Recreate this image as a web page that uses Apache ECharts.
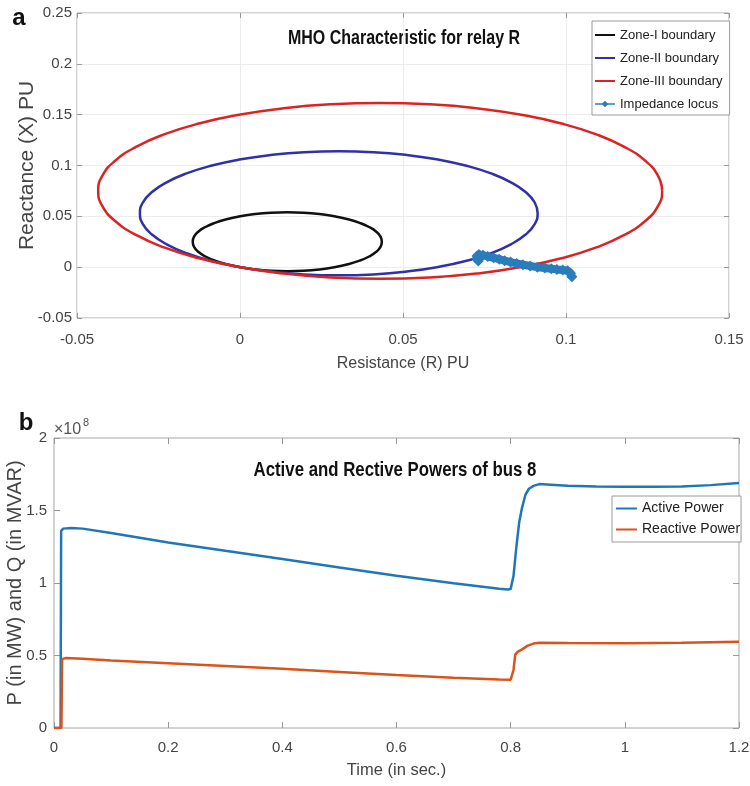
<!DOCTYPE html>
<html>
<head>
<meta charset="utf-8">
<title>MHO characteristic and bus 8 powers</title>
<script src="https://cdn.jsdelivr.net/npm/echarts@6/dist/echarts.min.js"></script>
<style>
html,body{margin:0;padding:0;background:#fff;}
#container{width:750px;height:786px;}
</style>
</head>
<body>
<div id="container"></div>
<script>
var FONT = "'Liberation Sans',Arial,sans-serif";

// (a) MHO zone boundaries, [R, X] in pu (read every 10 degrees round each circle)
var zone1 = [[0.0435,0.025],[0.0431,0.03],[0.0418,0.0349],[0.0396,0.0395],[0.0367,0.0436],[0.0331,0.0472],[0.029,0.0501],[0.0244,0.0523],[0.0195,0.0536],[0.0145,0.054],[0.0095,0.0536],[0.0046,0.0523],[0.0,0.0501],[-0.0041,0.0472],[-0.0077,0.0436],[-0.0106,0.0395],[-0.0128,0.0349],[-0.0141,0.03],[-0.0145,0.025],[-0.0141,0.02],[-0.0128,0.0151],[-0.0106,0.0105],[-0.0077,0.0064],[-0.0041,0.0028],[0.0,-0.0001],[0.0046,-0.0023],[0.0095,-0.0036],[0.0145,-0.004],[0.0195,-0.0036],[0.0244,-0.0023],[0.029,-0.0001],[0.0331,0.0028],[0.0367,0.0064],[0.0396,0.0105],[0.0418,0.0151],[0.0431,0.02],[0.0435,0.025],[0.0431,0.03]];
var zone2 = [[0.0913,0.053],[0.0904,0.0636],[0.0876,0.0739],[0.0831,0.0835],[0.077,0.0922],[0.0695,0.0997],[0.0608,0.1058],[0.0512,0.1103],[0.0409,0.1131],[0.0303,0.114],[0.0197,0.1131],[0.0094,0.1103],[-0.0002,0.1058],[-0.0089,0.0997],[-0.0164,0.0922],[-0.0225,0.0835],[-0.027,0.0739],[-0.0298,0.0636],[-0.0307,0.053],[-0.0298,0.0424],[-0.027,0.0321],[-0.0225,0.0225],[-0.0164,0.0138],[-0.0089,0.0063],[-0.0002,0.0002],[0.0094,-0.0043],[0.0197,-0.0071],[0.0303,-0.008],[0.0409,-0.0071],[0.0512,-0.0043],[0.0608,0.0002],[0.0695,0.0063],[0.077,0.0138],[0.0831,0.0225],[0.0876,0.0321],[0.0904,0.0424],[0.0913,0.053],[0.0904,0.0636]];
var zone3 = [[0.1295,0.075],[0.1282,0.09],[0.1243,0.1046],[0.1179,0.1183],[0.1093,0.1306],[0.0986,0.1413],[0.0863,0.1499],[0.0726,0.1563],[0.058,0.1602],[0.043,0.1615],[0.028,0.1602],[0.0134,0.1563],[-0.0003,0.1499],[-0.0126,0.1413],[-0.0233,0.1306],[-0.0319,0.1183],[-0.0383,0.1046],[-0.0422,0.09],[-0.0435,0.075],[-0.0422,0.06],[-0.0383,0.0454],[-0.0319,0.0317],[-0.0233,0.0194],[-0.0126,0.0087],[-0.0003,0.0001],[0.0134,-0.0063],[0.028,-0.0102],[0.043,-0.0115],[0.058,-0.0102],[0.0726,-0.0063],[0.0863,0.0001],[0.0986,0.0087],[0.1093,0.0194],[0.1179,0.0317],[0.1243,0.0454],[0.1282,0.06],[0.1295,0.075],[0.1282,0.09]];
var locus = [[0.1018,-0.0095],[0.1014,-0.006],[0.1005,-0.0035],[0.099,-0.0028],[0.0972,-0.0022],[0.0955,-0.0015],[0.0935,-0.0008],[0.0912,0.0],[0.089,0.0012],[0.0868,0.0025],[0.0849,0.0037],[0.083,0.005],[0.0812,0.0064],[0.0795,0.0078],[0.0778,0.0092],[0.076,0.0105],[0.0745,0.0118],[0.0733,0.0125],[0.0727,0.011],[0.0727,0.0085],[0.0731,0.006]];

// (b) powers of bus 8, values in units of 1e8
var timeP = [0,0.0115,0.0125,0.016,0.03,0.05,0.1,0.2,0.3,0.4,0.5,0.6,0.7,0.78,0.795,0.8,0.805,0.81,0.815,0.82,0.826,0.832,0.84,0.85,0.87,0.9,0.95,1.0,1.05,1.1,1.15,1.2];
var activeP = [0,0,1.36,1.375,1.38,1.375,1.345,1.28,1.222,1.165,1.107,1.05,0.998,0.96,0.955,0.958,1.05,1.25,1.42,1.52,1.61,1.65,1.67,1.682,1.678,1.67,1.665,1.663,1.663,1.665,1.675,1.69];
var timeQ = [0,0.013,0.0142,0.02,0.05,0.1,0.2,0.3,0.4,0.5,0.6,0.7,0.78,0.8,0.805,0.808,0.812,0.82,0.83,0.84,0.85,0.9,1.0,1.1,1.2];
var reactiveQ = [0,0,0.475,0.482,0.477,0.465,0.447,0.428,0.408,0.387,0.365,0.347,0.335,0.333,0.40,0.505,0.525,0.542,0.568,0.582,0.588,0.586,0.585,0.588,0.594];

function toPairs(xs, ys){
    var out = [];
    for (var i = 0; i < xs.length; i++) {
        out.push([xs[i], ys[i]]);
    }
    return out;
}

var boxColor = '#a6a6a6';
var labelColor = '#444';

function mainAxis(grid, pos, min, max, step, extra){
    var a = {
        type: 'value', gridIndex: grid, position: pos,
        min: min, max: max, interval: step,
        nameMoveOverlap: false,
        axisLine: {show: false, onZero: false},
        axisTick: {show: true, inside: true, length: 5, lineStyle: {color: '#999'}},
        axisLabel: {color: labelColor, fontFamily: FONT, fontSize: 15},
        splitLine: {show: false}
    };
    for (var k in extra) { a[k] = extra[k]; }
    return a;
}
// box sides (top / right) only carry inward ticks
function tickAxis(grid, pos, min, max, step, len){
    return {
        type: 'value', gridIndex: grid, position: pos,
        min: min, max: max, interval: step,
        axisLine: {show: false, onZero: false},
        axisTick: {show: true, inside: true, length: len, lineStyle: {color: '#999'}},
        axisLabel: {show: false},
        splitLine: {show: false}
    };
}
function label(text, x, y, font, fill, align, sx){
    return {type: 'text', x: x, y: y, scaleX: sx || 1,
        style: {text: text, font: font, fill: fill, align: align, verticalAlign: 'middle', textAlign: align, textVerticalAlign: 'middle'}};
}

var myChart = echarts.init(document.getElementById('container'), null, {renderer: 'canvas'});
var option = {
    animation: false,
    backgroundColor: '#fff',
    grid: [
        {left: 77, top: 13, width: 652, height: 305, show: true, borderColor: boxColor, borderWidth: 1, containLabel: false, outerBoundsMode: 'none'},
        {left: 54, top: 438, width: 685, height: 290, show: true, borderColor: boxColor, borderWidth: 1, containLabel: false, outerBoundsMode: 'none'}
    ],
    xAxis: [
        mainAxis(0, 'bottom', -0.05, 0.15, 0.05, {
            name: 'Resistance (R) PU', nameLocation: 'middle', nameGap: 38,
            nameTextStyle: {color: labelColor, fontFamily: FONT, fontSize: 16},
            axisLabel: {color: labelColor, fontFamily: FONT, fontSize: 15, margin: 14},
            splitLine: {show: true, lineStyle: {color: '#ececec', width: 1}}
        }),
        tickAxis(0, 'top', -0.05, 0.15, 0.05, 5),
        mainAxis(1, 'bottom', 0, 1.2, 0.2, {
            name: 'Time (in sec.)', nameLocation: 'middle', nameGap: 34,
            nameTextStyle: {color: labelColor, fontFamily: FONT, fontSize: 16.5},
            axisTick: {show: true, inside: true, length: 6, lineStyle: {color: '#999'}},
            axisLabel: {color: labelColor, fontFamily: FONT, fontSize: 15, margin: 12}
        }),
        tickAxis(1, 'top', 0, 1.2, 0.2, 6)
    ],
    yAxis: [
        mainAxis(0, 'left', -0.05, 0.25, 0.05, {
            name: 'Reactance (X) PU', nameLocation: 'middle', nameGap: 39,
            nameTextStyle: {color: labelColor, fontFamily: FONT, fontSize: 21},
            axisLabel: {color: labelColor, fontFamily: FONT, fontSize: 15, margin: 5},
            splitLine: {show: true, lineStyle: {color: '#ececec', width: 1}}
        }),
        tickAxis(0, 'right', -0.05, 0.25, 0.05, 5),
        mainAxis(1, 'left', 0, 2, 0.5, {
            name: 'P (in MW) and Q (in MVAR)', nameLocation: 'middle', nameGap: 29,
            nameTextStyle: {color: labelColor, fontFamily: FONT, fontSize: 20},
            axisTick: {show: true, inside: true, length: 6, lineStyle: {color: '#999'}},
            axisLabel: {color: labelColor, fontFamily: FONT, fontSize: 15, margin: 7}
        }),
        tickAxis(1, 'right', 0, 2, 0.5, 6)
    ],
    legend: [
        {
            data: [
                {name: 'Zone-I boundary', itemStyle: {opacity: 0}},
                {name: 'Zone-II boundary', itemStyle: {opacity: 0}},
                {name: 'Zone-III boundary', itemStyle: {opacity: 0}},
                {name: 'Impedance locus', lineStyle: {width: 1.5}}
            ],
            orient: 'vertical', left: 592, top: 21,
            padding: [5, 7, 2, 2], itemGap: 5, itemWidth: 20, itemHeight: 8,
            borderColor: '#9a9a9a', borderWidth: 1, backgroundColor: '#fff',
            textStyle: {color: '#222', fontFamily: FONT, fontSize: 13, lineHeight: 18}
        },
        {
            data: [
                {name: 'Active Power', itemStyle: {opacity: 0}},
                {name: 'Reactive Power', itemStyle: {opacity: 0}}
            ],
            orient: 'vertical', left: 612, top: 496,
            padding: [4, 1, 4, 3], itemGap: 4, itemWidth: 21, itemHeight: 8,
            borderColor: '#9a9a9a', borderWidth: 1, backgroundColor: '#fff',
            textStyle: {color: '#222', fontFamily: FONT, fontSize: 14, lineHeight: 17}
        }
    ],
    graphic: [
        label('a', 19, 18, 'bold 24px ' + FONT, '#111', 'center'),
        label('b', 26, 423, 'bold 24px ' + FONT, '#111', 'center'),
        label('MHO Characteristic for relay R', 404, 38, 'bold 20px ' + FONT, '#111', 'center', 0.8),
        label('Active and Rective Powers of bus 8', 395, 470, 'bold 21px ' + FONT, '#111', 'center', 0.8),
        label('\u00d710', 54, 430, '16px ' + FONT, '#555', 'left'),
        label('8', 83, 423, '11px ' + FONT, '#555', 'left')
    ],
    series: [
        {name: 'Zone-I boundary', type: 'line', xAxisIndex: 0, yAxisIndex: 0, data: zone1, smooth: true, symbol: 'none',
            lineStyle: {color: '#111', width: 2.5}, itemStyle: {color: '#111'}},
        {name: 'Zone-II boundary', type: 'line', xAxisIndex: 0, yAxisIndex: 0, data: zone2, smooth: true, symbol: 'none',
            lineStyle: {color: '#3030a8', width: 2.5}, itemStyle: {color: '#3030a8'}},
        {name: 'Zone-III boundary', type: 'line', xAxisIndex: 0, yAxisIndex: 0, data: zone3, smooth: true, symbol: 'none',
            lineStyle: {color: '#dc2323', width: 2.5}, itemStyle: {color: '#dc2323'}},
        {name: 'Impedance locus', type: 'line', xAxisIndex: 0, yAxisIndex: 0, data: locus, symbol: 'diamond', symbolSize: 11, showAllSymbol: true,
            lineStyle: {color: '#2b7cba', width: 8}, itemStyle: {color: '#2b7cba', borderWidth: 0}},
        {name: 'Active Power', type: 'line', xAxisIndex: 2, yAxisIndex: 2, data: toPairs(timeP, activeP), symbol: 'none',
            lineStyle: {color: '#1f77b8', width: 2.5}, itemStyle: {color: '#1f77b8'}},
        {name: 'Reactive Power', type: 'line', xAxisIndex: 2, yAxisIndex: 2, data: toPairs(timeQ, reactiveQ), symbol: 'none',
            lineStyle: {color: '#d9541a', width: 2.5}, itemStyle: {color: '#d9541a'}}
    ]
};
if (option && typeof option === "object") {
    myChart.setOption(option, true);
}
</script>
</body>
</html>
